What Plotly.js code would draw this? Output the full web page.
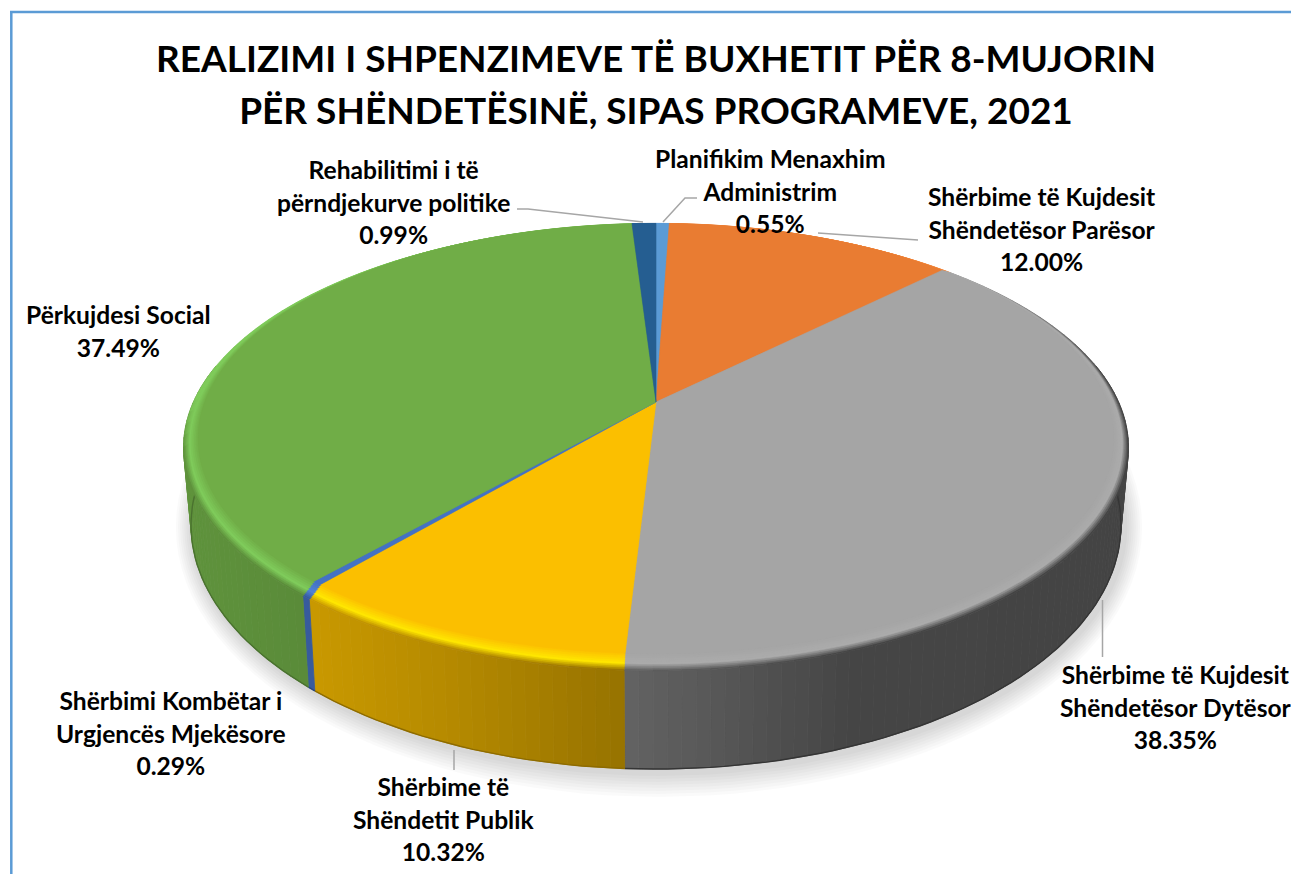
<!DOCTYPE html>
<html>
<head>
<meta charset="utf-8">
<title>Realizimi i shpenzimeve</title>
<script src="https://cdn.plot.ly/plotly-3.0.1.min.js"></script>
<style>html,body{margin:0;padding:0;background:#fff;overflow:hidden}#chart{width:1291px;height:874px}</style>
</head>
<body>
<div id="chart"></div>
<script>
// ---- data ----
const categories = [
  "Planifikim Menaxhim Administrim",
  "Shërbime të Kujdesit Shëndetësor Parësor",
  "Shërbime të Kujdesit Shëndetësor Dytësor",
  "Shërbime të Shëndetit Publik",
  "Shërbimi Kombëtar i Urgjencës Mjekësore",
  "Përkujdesi Social",
  "Rehabilitimi i të përndjekurve politike"
];
const values = [0.55, 12.00, 38.35, 10.32, 0.29, 37.49, 0.99];
const labelLines = [
  ["Planifikim Menaxhim", "Administrim"],
  ["Shërbime të Kujdesit", "Shëndetësor Parësor"],
  ["Shërbime të Kujdesit", "Shëndetësor Dytësor"],
  ["Shërbime të", "Shëndetit Publik"],
  ["Shërbimi Kombëtar i", "Urgjencës Mjekësore"],
  ["Përkujdesi Social"],
  ["Rehabilitimi i të", "përndjekurve politike"]
];
const titleLines = [
  "REALIZIMI I SHPENZIMEVE TË BUXHETIT PËR 8-MUJORIN",
  "PËR SHËNDETËSINË, SIPAS PROGRAMEVE, 2021"
];

// ---- style and layout ----
const baseColors  = ["#5b9bd5", "#e97c32", "#a5a5a5", "#fbbf00", "#4472c4", "#70ad47", "#255e91"];
const crestColors = ["#6fb0ea", "#f58c42", "#ababab", "#ffe600", "#4f82d8", "#7fcb5b", "#2f70aa"];
const labelPos = [[770, 191], [1042, 229], [1176, 707], [443, 819], [171, 733], [118, 331], [393, 202]];
const leaders = [
  "M697,198 L685,198 L663,222",
  "M818,233 L918,240",
  "M1102.5,600 L1102.5,657",
  "M454,750 L454,770",
  "M517,209 L528,209 L643,222"
];
const K = 0.17, CX = 656;
const FLAT = {y0: 402, A: 209, B: 451.3};
const RIM  = {y0: 409.5, A: 217, B: 465.6};
const BASE = {y0: 483.5, A: 237, B: 458.2};
const wallX = [180, 310, 450, 625, 700, 850, 1135];
const wallF = [0.85, 0.80, 0.72, 0.60, 0.54, 0.42, 0.41];

function hex(c){return [1,3,5].map(i=>parseInt(c.substr(i,2),16));}
function mix(a,b,t){const p=hex(a),q=hex(b);return '#'+p.map((v,i)=>Math.round(v+(q[i]-v)*t).toString(16).padStart(2,'0')).join('');}
function scale(c,f){return '#'+hex(c).map(v=>Math.round(v*f).toString(16).padStart(2,'0')).join('');}
function lerp(a,b,t){return {y0:a.y0+(b.y0-a.y0)*t,A:a.A+(b.A-a.A)*t,B:a.B+(b.B-a.B)*t};}
function clamp(x){return Math.max(0,Math.min(1,x));}
function proj(deg,P){
  const r=deg*Math.PI/180,u=Math.sin(r),v=-Math.cos(r),d=1-K*v;
  return [CX+P.B*u/d, P.y0+P.A*v/d];
}
function wallFactor(x){
  for(let i=1;i<wallX.length;i++) if(x<=wallX[i]){
    const t=(x-wallX[i-1])/(wallX[i]-wallX[i-1]);
    return wallF[i-1]+(wallF[i]-wallF[i-1])*Math.max(0,t);
  }
  return wallF[wallF.length-1];
}
function poly(pts,color,name,w){
  return {type:'scatter',mode:'lines',x:pts.map(p=>p[0]),y:pts.map(p=>p[1]),fill:'toself',fillcolor:color,
    line:{color:color,width:w===undefined?0.6:w,simplify:false},hoverinfo:'skip',showlegend:false,name:name};
}
function arc(a,b,P,step){
  const n=Math.max(2,Math.ceil((b-a)/step)),o=[];
  for(let i=0;i<=n;i++) o.push(proj(a+(b-a)*i/n,P));
  return o;
}

// angular extents from the values
const total = values.reduce((s,v)=>s+v,0);
let acc = 0;
const spans = values.map(v=>{const s=acc/total*360;acc+=v;return [s,acc/total*360];});

const traces = [];

// soft shadow under the disc
for(let d=26;d>=3;d-=3){
  const pts=[];
  for(let t=0;t<=360;t+=3){
    const r=t*Math.PI/180;
    pts.push([CX+3+(465+d*0.7)*Math.sin(r), 527+(244+d)*Math.cos(r)]);
  }
  traces.push({type:'scatter',mode:'lines',x:pts.map(p=>p[0]),y:pts.map(p=>p[1]),fill:'toself',
    fillcolor:'rgba(0,0,0,0.018)',line:{width:0},hoverinfo:'skip',showlegend:false,name:'shadow'});
}

// side wall, strip by strip
spans.forEach((sp,i)=>{
  const a=Math.max(sp[0],78),b=Math.min(sp[1],282);
  if(b<=a) return;
  const n=Math.max(1,Math.ceil((b-a)/1.5));
  for(let j=0;j<n;j++){
    const s=a+(b-a)*j/n,e=a+(b-a)*(j+1)/n;
    const mid=proj((s+e)/2,RIM);
    const col=scale(baseColors[i],wallFactor(mid[0]));
    const p=[proj(s,RIM),proj(e,RIM),proj(e,BASE),proj(s,BASE),proj(s,RIM)];
    traces.push(poly(p,col,categories[i],0.8));
  }
  // darker bottom edge
  const edge=arc(a,b,BASE,1.5);
  const f=wallFactor(proj((a+b)/2,RIM)[0])*0.78;
  traces.push({type:'scatter',mode:'lines',x:edge.map(p=>p[0]),y:edge.map(p=>p[1]),
    line:{color:scale(baseColors[i],f),width:1.4},hoverinfo:'skip',showlegend:false,name:categories[i]});
});

// bevel, outer part: fades from the crest into the wall colour on the front half
const crestL=0.6;
[1,0.9,0.8,0.7].forEach(l=>{
  const P=lerp(FLAT,RIM,l),t=(l-crestL)/(1-crestL);
  spans.forEach((sp,i)=>{
    const n=Math.max(1,Math.ceil((sp[1]-sp[0])/3));
    for(let j=0;j<n;j++){
      const s=sp[0]+(sp[1]-sp[0])*j/n,e=sp[0]+(sp[1]-sp[0])*(j+1)/n,m=(s+e)/2;
      const v=-Math.cos(m*Math.PI/180);
      const front=i===2?clamp((v+0.75)/0.5):clamp((v+0.05)/0.25);
      const wall=scale(baseColors[i],wallFactor(proj(m,RIM)[0]));
      const col=mix(crestColors[i],wall,t*front);
      traces.push(poly([[CX,FLAT.y0],proj(s,P),proj(m,P),proj(e,P),[CX,FLAT.y0]],col,categories[i]));
    }
  });
});

// bevel, inner part: fades from the crest into the face colour
[0.6,0.48,0.36,0.24,0.12].forEach(l=>{
  const P=lerp(FLAT,RIM,l);
  spans.forEach((sp,i)=>{
    const col=mix(baseColors[i],crestColors[i],l/crestL);
    const pts=[[CX,FLAT.y0]].concat(arc(sp[0],sp[1],P,1.5));
    pts.push([CX,FLAT.y0]);
    traces.push(poly(pts,col,categories[i]));
  });
});

// flat top face
spans.forEach((sp,i)=>{
  const pts=[[CX,FLAT.y0]].concat(arc(sp[0],sp[1],FLAT,1));
  pts.push([CX,FLAT.y0]);
  traces.push(poly(pts,baseColors[i],categories[i]));
});

// labels
const annotations=categories.map((c,i)=>{
  const lines=labelLines[i].concat([values[i].toFixed(2)+'%']);
  return {xref:'x',yref:'y',x:labelPos[i][0],y:labelPos[i][1],xanchor:'center',yanchor:'middle',showarrow:false,align:'center',
    text:lines.map(s=>'<span style="font-size:24.6px">'+s+'</span>').join('<br>'),
    font:{family:'Lato, sans-serif',size:25,color:'#000',weight:700}};
});

const shapes=leaders.map(d=>({type:'path',path:d,xref:'x',yref:'y',line:{color:'#a6a6a6',width:1.5},layer:'above'}));
shapes.push({type:'line',xref:'x',yref:'y',x0:11.3,x1:11.3,y0:12,y1:874,line:{color:'#5b9bd5',width:2.5},layer:'above'});
shapes.push({type:'line',xref:'x',yref:'y',x0:10,x1:1291,y0:12,y1:12,line:{color:'#5b9bd5',width:2.5},layer:'above'});

const layout={
  width:1291,height:874,margin:{l:0,r:0,t:0,b:0},paper_bgcolor:'#fff',plot_bgcolor:'#fff',showlegend:false,
  hovermode:false,
  title:{text:titleLines.map(s=>'<span style="font-size:37px">'+s+'</span>').join('<br>'),
    x:656/1291,xanchor:'center',y:0.9175,yanchor:'middle',automargin:false,
    font:{family:'Lato, sans-serif',size:40,color:'#000',weight:700}},
  xaxis:{range:[0,1291],visible:false,fixedrange:true},
  yaxis:{range:[874,0],visible:false,fixedrange:true},
  annotations:annotations,shapes:shapes
};
Plotly.newPlot('chart',traces,layout,{displayModeBar:false,staticPlot:true});
</script>
</body>
</html>
